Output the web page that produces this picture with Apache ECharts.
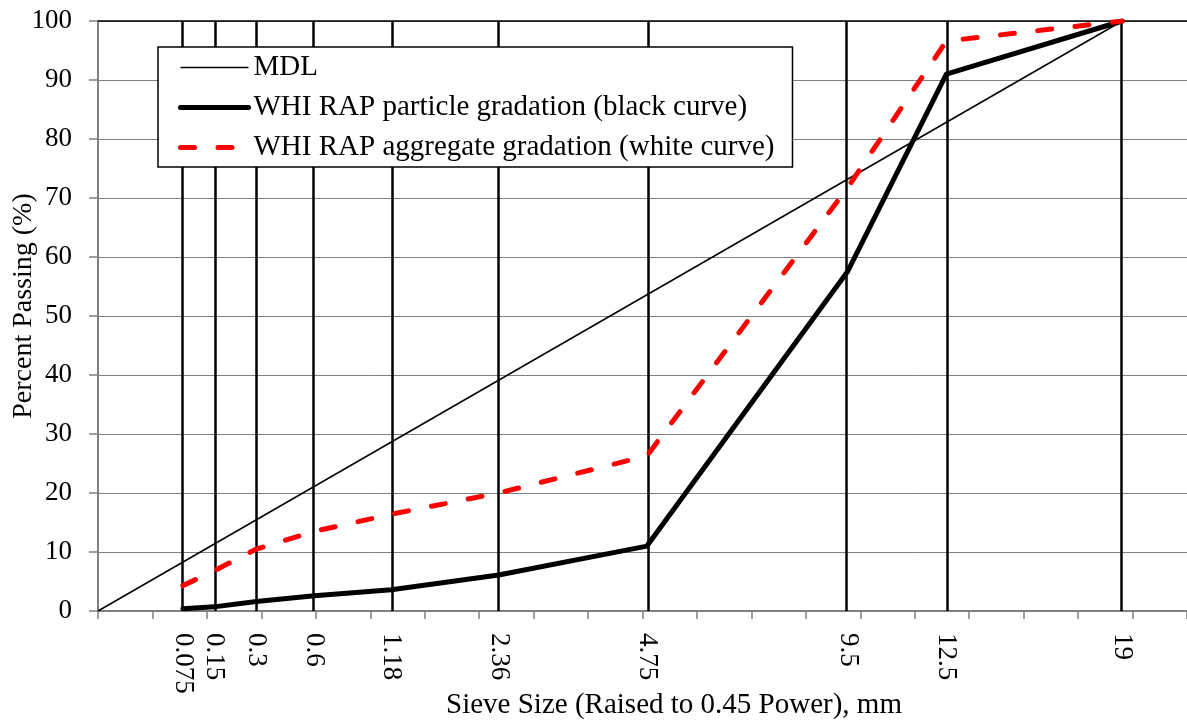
<!DOCTYPE html>
<html>
<head>
<meta charset="utf-8">
<title>Gradation chart</title>
<script src="https://cdn.jsdelivr.net/npm/echarts@6/dist/echarts.min.js"></script>
<style>
  html, body { margin: 0; padding: 0; background: #fff; }
  #chart { width: 1187px; height: 723px; }
</style>
</head>
<body>
<div id="chart"></div>
<script>
// Sieve sizes (mm) and percent passing for each gradation
const sieveSizes = [0.075, 0.15, 0.3, 0.6, 1.18, 2.36, 4.75, 9.5, 12.5, 19];
const sieveLabels = ['0.075', '0.15', '0.3', '0.6', '1.18', '2.36', '4.75', '9.5', '12.5', '19'];
const blackCurve = [0.4, 0.7, 1.6, 2.6, 3.6, 6.1, 11.0, 57.6, 91.0, 100];
const whiteCurve = [4.3, 6.8, 10.5, 13.5, 16.4, 20.0, 26.3, 71.8, 96.6, 100];
// Maximum density line end points
const mdlSizes = [0, 19];
const mdlPercent = [0, 100];
const yTicks = [0, 10, 20, 30, 40, 50, 60, 70, 80, 90, 100];

const POWER = 0.45;
const toPow = s => Math.pow(s, POWER);
const FONT = '"Liberation Serif", "Times New Roman", serif';
const GRAY = '#808080';

const MDL_NAME = 'MDL';
const BLACK_NAME = 'WHI RAP particle gradation (black curve)';
const WHITE_NAME = 'WHI RAP aggregate gradation (white curve)';

const mdlStyle = { color: '#000', width: 1.5 };
const blackStyle = { color: '#000', width: 5, join: 'round', cap: 'round' };
const whiteStyle = { color: '#ff0000', width: 5, type: [14, 23.5], cap: 'round', join: 'round' };

const pairs = (xs, ys) => xs.map((s, i) => [toPow(s), ys[i]]);

const chart = echarts.init(document.getElementById('chart'), null, { renderer: 'canvas' });

chart.setOption({
  backgroundColor: '#fff',
  animation: false,
  grid: { left: 98, right: 0, top: 21, bottom: 112, containLabel: false },
  xAxis: [{
    type: 'value',
    min: 0,
    max: 4,
    interval: 0.2,
    axisLine: { show: true, onZero: false, lineStyle: { color: GRAY, width: 2 } },
    axisTick: { show: true, inside: false, length: 8, lineStyle: { color: GRAY, width: 1.5 } },
    splitLine: { show: false },
    axisLabel: {
      customValues: sieveSizes.map(toPow),
      rotate: -90,
      margin: 22,
      color: '#000',
      fontFamily: FONT,
      fontSize: 27,
      formatter: v => {
        const i = sieveSizes.findIndex(s => Math.abs(toPow(s) - v) < 1e-6);
        return i >= 0 ? sieveLabels[i] : '';
      }
    }
  }, {
    type: 'value',
    position: 'top',
    min: 0,
    max: 4,
    axisLine: { show: true, onZero: false, lineStyle: { color: '#000', width: 1.5 } },
    axisTick: { show: false },
    axisLabel: { show: false },
    splitLine: { show: false }
  }],
  yAxis: {
    type: 'value',
    min: yTicks[0],
    max: yTicks[yTicks.length - 1],
    interval: 10,
    axisLine: { show: true, onZero: false, lineStyle: { color: GRAY, width: 2 } },
    axisTick: { show: true, length: 9, lineStyle: { color: GRAY, width: 1.5 } },
    splitLine: { show: true, lineStyle: { color: GRAY, width: 1 } },
    axisLabel: { margin: 26, color: '#000', fontFamily: FONT, fontSize: 27 }
  },
  legend: {
    z: 20,
    orient: 'vertical',
    left: 158,
    top: 47,
    padding: [6, 18, 5, 20],
    itemWidth: 68,
    itemHeight: 14,
    itemGap: 11,
    backgroundColor: '#fff',
    borderColor: '#000',
    borderWidth: 1.5,
    borderRadius: 0,
    itemStyle: { opacity: 0 },
    textStyle: { fontFamily: FONT, fontSize: 29, color: '#000', lineHeight: 29 },
    data: [
      { name: MDL_NAME, lineStyle: mdlStyle },
      { name: BLACK_NAME, lineStyle: blackStyle },
      { name: WHITE_NAME, lineStyle: whiteStyle }
    ]
  },
  graphic: [{
    type: 'text',
    x: 674, y: 705,
    style: {
      text: 'Sieve Size (Raised to 0.45 Power), mm',
      font: '29px ' + FONT, fill: '#000',
      align: 'center', verticalAlign: 'middle'
    }
  }, {
    type: 'text',
    x: 24, y: 306,
    rotation: Math.PI / 2,
    style: {
      text: 'Percent Passing (%)',
      font: '28px ' + FONT, fill: '#000',
      align: 'center', verticalAlign: 'middle'
    }
  }],
  series: [{
    name: MDL_NAME,
    type: 'line',
    z: 2,
    symbol: 'none',
    data: pairs(mdlSizes, mdlPercent),
    lineStyle: mdlStyle,
    itemStyle: { color: '#000' },
    markLine: {
      z: 1,
      silent: true,
      symbol: ['none', 'none'],
      label: { show: false },
      emphasis: { disabled: true },
      lineStyle: { color: '#000', width: 2.5, type: 'solid' },
      data: sieveSizes.map(s => ({ xAxis: toPow(s) }))
    }
  }, {
    name: BLACK_NAME,
    type: 'line',
    z: 3,
    symbol: 'none',
    data: pairs(sieveSizes, blackCurve),
    lineStyle: blackStyle,
    itemStyle: { color: '#000' }
  }, {
    name: WHITE_NAME,
    type: 'line',
    z: 4,
    symbol: 'none',
    data: pairs(sieveSizes, whiteCurve),
    lineStyle: whiteStyle,
    itemStyle: { color: '#ff0000' }
  }]
});
</script>
</body>
</html>
